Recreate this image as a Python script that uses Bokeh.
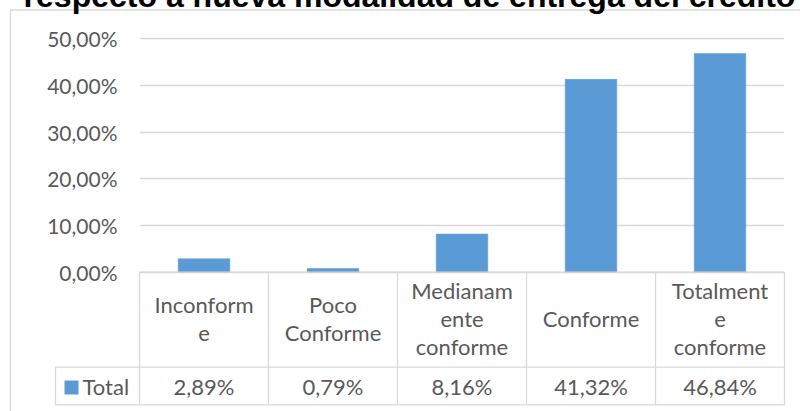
from bokeh.plotting import figure
from bokeh.models import Range1d, FactorRange, FixedTicker, LinearScale
from bokeh.core.properties import value
from bokeh.embed import file_html
from bokeh.resources import INLINE

# ---------------- data ----------------
title_text = "respecto a nueva modalidad de entrega del crédito"
categories = ["Inconforme", "Poco Conforme", "Medianamente conforme", "Conforme", "Totalmente conforme"]
header_labels = ["Inconform\ne", "Poco\nConforme", "Medianam\nente\nconforme", "Conforme", "Totalment\ne\nconforme"]
totals = [2.89, 0.79, 8.16, 41.32, 46.84]
value_labels = ["2,89%", "0,79%", "8,16%", "41,32%", "46,84%"]
y_ticks = [0, 10, 20, 30, 40, 50]
y_tick_labels = ["0,00%", "10,00%", "20,00%", "30,00%", "40,00%", "50,00%"]
series_name = "Total"

# ---------------- layout ----------------
W, H = 800, 411
FL, FR = 139, 784          # frame left / right (canvas px)
CW = (FR - FL) / 5         # px per category
Y0 = 271.7                 # canvas y of the 0 line
PPU = 4.668                # px per percent
ROW = 366.7                # separator between header row and value row
BOT = 404.3                # table bottom
GRID = "#d9d9d9"
TXT = "#595959"
BAR = "#5B9BD5"
FONT = value("Lato")
TBL_SIZE = "22px"
first, last = categories[0], categories[-1]


def off(px):
    """categorical coordinate at a pixel distance from the first category centre"""
    return (first, px / CW)


p = figure(width=W, height=H,
           x_range=FactorRange(factors=categories, range_padding=0),
           y_range=Range1d(-(H - Y0) / PPU, Y0 / PPU),
           x_axis_location=None, y_axis_location="left",
           toolbar_location=None, output_backend="svg",
           min_border_left=FL, min_border_right=W - FR,
           min_border_top=0, min_border_bottom=0,
           outline_line_color=None,
           background_fill_color="white", border_fill_color="white")

p.extra_y_ranges = {"py": Range1d(H, 0)}
p.extra_y_scales = {"py": LinearScale()}

# grid
p.ygrid.ticker = FixedTicker(ticks=y_ticks)
p.ygrid.grid_line_color = GRID
p.ygrid.grid_line_width = 1.3
for g in p.xgrid:
    g.visible = False

# y axis
ax = p.yaxis[0]
ax.ticker = FixedTicker(ticks=y_ticks)
ax.major_label_overrides = {t: l for t, l in zip(y_ticks, y_tick_labels)}
ax.axis_line_color = None
ax.major_tick_line_color = None
ax.minor_tick_line_color = None
ax.major_tick_out = 0
ax.major_tick_in = 0
ax.major_label_standoff = 22
ax.major_label_text_font = "Lato"
ax.major_label_text_font_size = "21px"
ax.major_label_text_color = TXT

# bars
p.vbar(x=categories, top=totals, width=0.4, bottom=0,
       fill_color=BAR, line_color=BAR, line_width=0.5)

# table lines (horizontal)
leg_left = off(-148.5)
right_edge = (last, 0.5)
p.segment(x0=[(first, -0.5), leg_left, leg_left], x1=[right_edge] * 3,
          y0=[Y0, ROW, BOT], y1=[Y0, ROW, BOT],
          y_range_name="py", line_color=GRID, line_width=1.3, level="overlay")
# table lines (vertical)
vx = [(c, -0.5) for c in categories] + [right_edge]
p.segment(x0=vx, x1=vx, y0=[Y0] * len(vx), y1=[BOT] * len(vx),
          y_range_name="py", line_color=GRID, line_width=1.3, level="overlay")
p.segment(x0=[leg_left], x1=[leg_left], y0=[ROW], y1=[BOT],
          y_range_name="py", line_color=GRID, line_width=1.3, level="overlay")

# outer chart border
border_left = off(-193.5)
p.segment(x0=[border_left, border_left], x1=[(last, 1.0), border_left],
          y0=[9.5, 9.5], y1=[9.5, H + 10],
          y_range_name="py", line_color=GRID, line_width=1.3, level="overlay")

# header labels
p.text(x=categories, y=[318] * 5, text=header_labels, y_range_name="py",
       text_align="center", text_baseline="middle", text_font=FONT,
       text_font_size=TBL_SIZE, text_color=TXT, text_line_height=1.05, level="overlay")
# value labels
p.text(x=categories, y=[386] * 5, text=value_labels, y_range_name="py",
       text_align="center", text_baseline="middle", text_font=FONT,
       text_font_size=TBL_SIZE, text_color=TXT, level="overlay")

# legend key
p.rect(x=[off(-132.5)], y=[387], width=14 / CW, height=14, y_range_name="py",
       fill_color=BAR, line_color=None, level="overlay")
p.text(x=[off(-121.5)], y=[386], text=[series_name], y_range_name="py",
       text_align="left", text_baseline="middle", text_font=FONT,
       text_font_size=TBL_SIZE, text_color=TXT, level="overlay")

# title (cut at top, as in the reference)
p.text(x=[off(205.5)], y=[-5], text=[title_text], y_range_name="py",
       text_align="center", text_baseline="alphabetic",
       text_font=value("Liberation Sans"), text_font_style="bold",
       text_font_size="32px", text_color="black", level="overlay")

open("out.html", "w").write(file_html(p, INLINE))
